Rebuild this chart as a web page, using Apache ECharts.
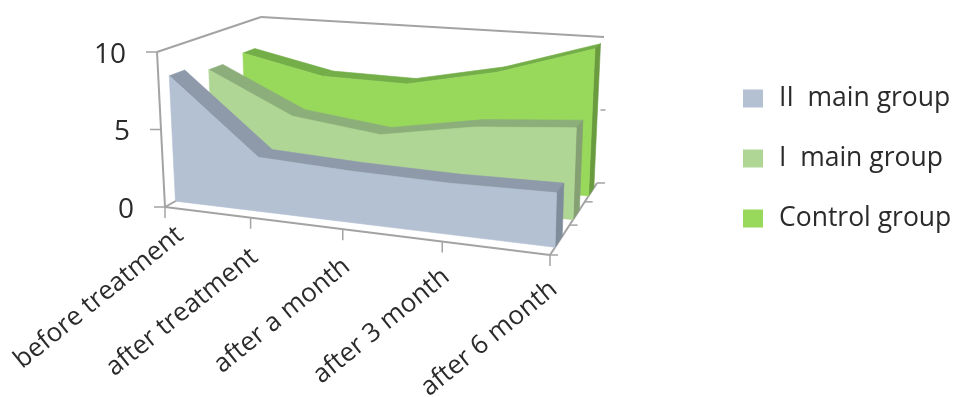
<!DOCTYPE html>
<html>
<head>
<meta charset="utf-8">
<style>html,body{margin:0;padding:0;background:#fff}#chart{width:957px;height:397px}</style>
<script src="https://cdn.jsdelivr.net/npm/echarts@6/dist/echarts.min.js"></script>
</head>
<body>
<div id="chart"></div>
<script>
// Chart content
const categories = ['before treatment', 'after treatment', 'after a month', 'after 3 month', 'after 6 month'];
const valueTicks = [0, 5, 10];
const depthTicks = [0, 0.37, 0.7, 1];
const groupII = [8.2, 3.45, 3.2, 3.1, 3.2];
const groupI = [7.6, 4.9, 4.2, 5.25, 5.75];
const groupControl = [7.85, 6.6, 6.5, 7.75, 9.75];

const FONT = '"Open Sans", "Noto Sans", sans-serif';
const TEXT = '#2b2b2b';
const FRAME = '#a3a3a3';

// Corners of the 3D box: [front-left, front-right, back-right, back-left]
const floorQuad = [[165, 207], [550, 255], [597, 183], [265, 151]];
const ceilQuad = [[157, 52], [554.7, 81.7], [604, 37], [261, 17]];

// Where each rotated category label ends, relative to its tick on the floor edge
const labelOffsets = [[15, 25], [4, 36], [4, 34], [4, 32], [4, 31]];

// Homography taking the unit square onto a quadrilateral
function squareToQuad(q) {
  const [[x0, y0], [x1, y1], [x2, y2], [x3, y3]] = q;
  const sx = x0 - x1 + x2 - x3, sy = y0 - y1 + y2 - y3;
  const dx1 = x1 - x2, dx2 = x3 - x2, dy1 = y1 - y2, dy2 = y3 - y2;
  const den = dx1 * dy2 - dx2 * dy1;
  const g = (sx * dy2 - dx2 * sy) / den, h = (dx1 * sy - sx * dy1) / den;
  const a = x1 - x0 + g * x1, b = x3 - x0 + h * x3;
  const d = y1 - y0 + g * y1, e = y3 - y0 + h * y3;
  return (u, w) => {
    const k = g * u + h * w + 1;
    return [(a * u + b * w + x0) / k, (d * u + e * w + y0) / k];
  };
}
const onFloor = squareToQuad(floorQuad);
const onCeil = squareToQuad(ceilQuad);

// (u along categories, w into depth, t up the value axis), all 0..1, to pixels
function project(u, w, t) {
  const p = onFloor(u, w), q = onCeil(u, w);
  return [p[0] + (q[0] - p[0]) * t, p[1] + (q[1] - p[1]) * t];
}

// The hidden cartesian grid supplies the category and value scales
const GRID = { left: 100, top: 100, width: 400, height: 100 };
function scaled(api, i, v) {
  const c = api.coord([i, v]);
  return [(c[0] - GRID.left) / GRID.width, (GRID.top + GRID.height - c[1]) / GRID.height];
}
function poly(points, fill) {
  return {
    type: 'polygon',
    shape: { points },
    style: { fill, stroke: fill, lineWidth: 0.6 }
  };
}
function line(a, b, width) {
  return {
    type: 'line',
    shape: { x1: a[0], y1: a[1], x2: b[0], y2: b[1] },
    style: { stroke: FRAME, lineWidth: width || 2 }
  };
}

// One slab of the 3D area: top faces per segment, one front face, and the side face at the end
function slabSeries(name, values, wFront, wBack, front, top, side) {
  return {
    type: 'custom',
    name,
    coordinateSystem: 'cartesian2d',
    itemStyle: { color: front },
    silent: true,
    animation: false,
    data: values.map((v, i) => [i, v]),
    renderItem(params, api) {
      const i = params.dataIndex;
      const last = values.length - 1;
      const [u0, t0] = scaled(api, api.value(0), api.value(1));
      const children = [];
      if (i < last) {
        const [u1, t1] = scaled(api, api.value(0, i + 1), api.value(1, i + 1));
        children.push(poly([
          project(u0, wBack, t0), project(u1, wBack, t1),
          project(u1, wFront, t1), project(u0, wFront, t0)
        ], top));
      } else {
        children.push(poly([
          project(u0, wFront, 0), project(u0, wBack, 0),
          project(u0, wBack, t0), project(u0, wFront, t0)
        ], side));
        // The front face goes last so that it closes over the top faces' lower edges
        const outline = values.map((v, j) => {
          const [u, t] = scaled(api, api.value(0, j), api.value(1, j));
          return project(u, wFront, t);
        });
        outline.push(project(1, wFront, 0), project(0, wFront, 0));
        children.push(poly(outline, front));
      }
      return { type: 'group', children };
    }
  };
}

// Box edges, tick marks and tick labels
const frameSeries = {
  type: 'custom',
  coordinateSystem: 'cartesian2d',
  silent: true,
  animation: false,
  z: 1,
  data: categories.map((c, i) => [i, 0]),
  renderItem(params, api) {
    const i = params.dataIndex;
    const [u] = scaled(api, i, 0);
    const base = project(u, 0, 0);
    const kids = [
      line(base, [base[0], base[1] + 11], 1.5),
      {
        type: 'text',
        x: base[0] + labelOffsets[i][0], y: base[1] + labelOffsets[i][1],
        rotation: 39 * Math.PI / 180,
        style: {
          text: categories[i], fill: TEXT,
          font: '26px ' + FONT,
          textAlign: 'right', textVerticalAlign: 'middle'
        }
      }
    ];
    if (i === 0) {
      kids.push(line(project(0, 0, 0), project(1, 0, 0)));
      kids.push(line(project(1, 0, 0), project(1, 1, 0)));
      kids.push(line(project(0, 0, 0), project(0, 1, 0)));
      kids.push(line(project(0, 0, 0), project(0, 0, 1)));
      kids.push(line(project(0, 0, 1), project(0, 1, 1)));
      kids.push(line(project(0, 1, 1), project(1, 1, 1)));
      valueTicks.forEach((v) => {
        const t = scaled(api, 0, v)[1];
        const p = project(0, 0, t);
        kids.push(line(p, [p[0] - 11, p[1]], 1.5));
        kids.push({
          type: 'text', x: p[0] - 31, y: p[1] + 3,
          style: {
            text: String(v), fill: TEXT, font: '28px ' + FONT,
            textAlign: 'right', textVerticalAlign: 'middle'
          }
        });
      });
      const mid = project(1, 1, scaled(api, 0, 5)[1]);
      kids.push(line(mid, [mid[0] + 5, mid[1]], 1.5));
      depthTicks.forEach((w) => {
        const p = project(1, w, 0);
        kids.push(line(p, [p[0] + 8, p[1]], 1.5));
      });
    }
    return { type: 'group', children: kids };
  }
};

const chart = echarts.init(document.getElementById('chart'), null, { renderer: 'canvas' });
chart.setOption({
  animation: false,
  backgroundColor: '#ffffff',
  grid: GRID,
  xAxis: { type: 'category', data: categories, boundaryGap: false, show: false },
  yAxis: { type: 'value', min: 0, max: 10, interval: 5, show: false },
  legend: {
    orient: 'vertical',
    left: 738, top: 80,
    itemWidth: 20, itemHeight: 18, itemGap: 33,
    icon: 'rect',
    selectedMode: false,
    data: ['II  main group', 'I  main group', 'Control group'],
    textStyle: { fontFamily: FONT, fontSize: 26.5, color: TEXT, padding: [0, 0, 0, 11] }
  },
  series: [
    frameSeries,
    slabSeries('Control group', groupControl, 0.79, 0.92, '#98D85B', '#74AE49', '#6A9C3F'),
    slabSeries('I  main group', groupI, 0.443, 0.58, '#B0D696', '#8CAE7A', '#85A073'),
    slabSeries('II  main group', groupII, 0.09, 0.225, '#B4C1D3', '#8E9AAA', '#7F8C9B')
  ]
});
</script>
</body>
</html>
